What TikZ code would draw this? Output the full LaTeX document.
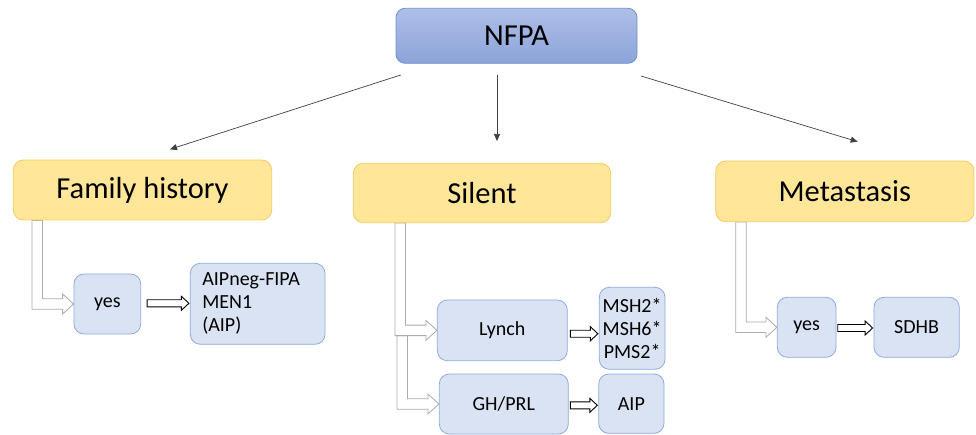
\documentclass[tikz,border=0pt]{standalone}
\usepackage{fontspec}
\setmainfont{Carlito}
\usetikzlibrary{arrows.meta, calc, backgrounds}
\definecolor{nfpatop}{HTML}{AEBFE8}
\definecolor{nfpabot}{HTML}{8CA3DA}
\definecolor{nfpaline}{HTML}{7090D2}
\definecolor{groupfill}{HTML}{FFE699}
\definecolor{groupline}{HTML}{F3CB62}
\definecolor{leaffill}{HTML}{DAE3F3}
\definecolor{leafline}{HTML}{8FAADC}
\definecolor{arrgray}{HTML}{ABABAB}

\begin{document}
\begin{tikzpicture}[
x=1pt, y=-1pt,
topbox/.style={draw=nfpaline, top color=nfpatop, bottom color=nfpabot, rounded corners=9pt, inner sep=0pt, line width=0.8pt, font=\fontsize{30.5}{36}\selectfont},
groupbox/.style={draw=groupline, fill=groupfill, rounded corners=10pt, inner sep=0pt, line width=0.8pt, font=\fontsize{30.5}{36}\selectfont},
leafbox/.style={draw=leafline, fill=leaffill, rounded corners=10pt, inner sep=0pt, line width=0.8pt, font=\fontsize{20}{23}\selectfont, align=center},
arr/.style={-{Triangle[length=7pt, width=6pt]}, line width=0.7pt, draw=black!75},
grayblock/.style={draw=arrgray, fill=white, line width=0.8pt},
blackblock/.style={draw=black, fill=white, line width=0.9pt}
]
\useasboundingbox (0,0) rectangle (976,435);

\node[topbox, minimum width=241pt, minimum height=55pt] (nfpa) at (516.5,35.8) {NFPA};

\node[groupbox, minimum width=258.4pt, minimum height=60pt] (famhist) at (142.5,190) {Family history};
\node[groupbox, minimum width=257.4pt, minimum height=59.4pt] (silent) at (482,193) {Silent};
\node[groupbox, minimum width=258.3pt, minimum height=60.7pt] (metast) at (844.85,191.35) {Metastasis};

\node[leafbox, minimum width=66.7pt, minimum height=60pt] (yesF) at (107.35,304) {yes};
\node[leafbox, text width=110.7pt, inner xsep=12pt, align=left, minimum height=81pt] (genF) at (257.65,303.8) {AIPneg-FIPA\\MEN1\\(AIP)};
\node[leafbox, minimum width=130pt, minimum height=60.7pt] (lynch) at (502.3,330.35) {Lynch};
\node[leafbox, minimum width=65.7pt, minimum height=82pt] (msh) at (632.15,328.3) {MSH2*\\MSH6*\\PMS2*};
\node[leafbox, minimum width=129pt, minimum height=60pt] (ghprl) at (503.8,404) {GH/PRL};
\node[leafbox, minimum width=65.3pt, minimum height=59.3pt] (aip) at (631.35,403.65) {AIP};
\node[leafbox, minimum width=58.7pt, minimum height=60pt] (yesM) at (806.65,327.3) {yes};
\node[leafbox, minimum width=85.3pt, minimum height=60pt] (sdhb) at (916.65,327.3) {SDHB};

\coordinate (famfrom) at (400.7,75);
\coordinate (famto) at (170,149.3);
\coordinate (silfrom) at (497,75);
\coordinate (silto) at (497,141);
\coordinate (metfrom) at (641,76);
\coordinate (metto) at (857.7,141.7);
\draw[arr] (famfrom) -- (famto);
\draw[arr] (silfrom) -- (silto);
\draw[arr] (metfrom) -- (metto);

\begin{scope}[on background layer]
\draw[grayblock] let \p1=(lynch.west), \p2=(ghprl.west) in
  (397pt,\y1-5.25pt) -- (407.5pt,\y1-5.25pt) -- (407.5pt,\y2+5.25pt) -- (\x2-11pt,\y2+5.25pt) -- (\x2-11pt,\y2+10pt) -- (\p2)
  -- (\x2-11pt,\y2-10pt) -- (\x2-11pt,\y2-5.25pt) -- (397pt,\y2-5.25pt) -- cycle;
\foreach \src/\dst/\xl in {famhist/yesF/32pt, silent/lynch/395pt, metast/yesM/735.7pt}
  \draw[grayblock] let \p1=(\src.south), \p2=(\dst.west) in
    (\xl,\y1) -- (\xl+10.5pt,\y1) -- (\xl+10.5pt,\y2+5.25pt) -- (\x2-11pt,\y2+5.25pt) -- (\x2-11pt,\y2+10pt) -- (\p2)
    -- (\x2-11pt,\y2-10pt) -- (\x2-11pt,\y2-5.25pt) -- (\xl,\y2-5.25pt) -- cycle;
\end{scope}

\foreach \a/\b/\dy/\gap in {yesF/genF/0.7pt/6pt, lynch/msh/-3.4pt/2.7pt, ghprl/aip/-1.3pt/1.7pt, yesM/sdhb/-0.7pt/1.3pt}
  \draw[blackblock] let \p1=($(\a.east)+(\gap,\dy)$), \p2=(\b.west) in
    (\x1,\y1+3.5pt) -- (\x2-8.5pt,\y1+3.5pt) -- (\x2-8.5pt,\y1+7pt) -- (\x2-1pt,\y1) -- (\x2-8.5pt,\y1-7pt) -- (\x2-8.5pt,\y1-3.5pt) -- (\x1,\y1-3.5pt) -- cycle;
\end{tikzpicture}
\end{document}
